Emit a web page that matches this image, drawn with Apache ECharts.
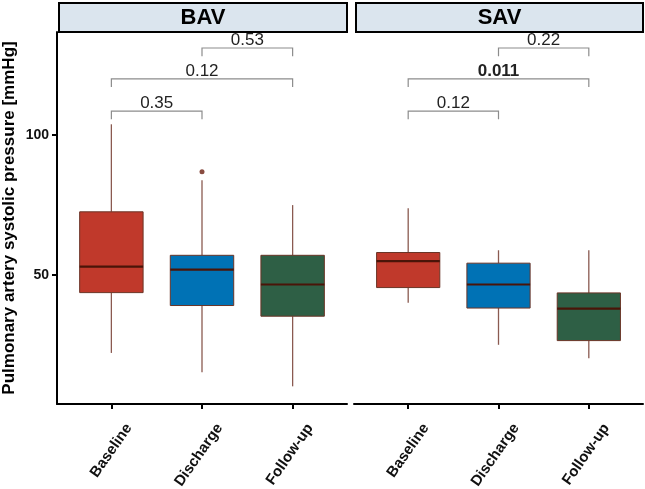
<!DOCTYPE html>
<html>
<head>
<meta charset="utf-8">
<script src="https://cdn.jsdelivr.net/npm/echarts@6/dist/echarts.min.js"></script>
<style>html,body{margin:0;padding:0;background:#fff}#c{width:645px;height:489px}</style>
</head>
<body>
<div id="c"></div>
<script>
// ---- data ----
var categories = ['Baseline', 'Discharge', 'Follow-up'];
var panels = ['BAV', 'SAV'];
var boxColors = ['#C0392B', '#0072B5', '#2E5F45'];
// [low whisker, Q1, median, Q3, high whisker]
var bavBoxes = [
  [22.3, 43.8, 53.1, 72.6, 103.8],
  [15.4, 39.2, 52.0, 57.1, 83.9],
  [10.4, 35.4, 46.7, 57.1, 75.0]
];
var savBoxes = [
  [40.2, 45.6, 55.0, 58.1, 73.9],
  [25.2, 38.3, 46.7, 54.3, 58.9],
  [20.4, 26.7, 38.1, 43.7, 58.9]
];
var bavOutliers = [[2, 86.9]];
var savOutliers = [];
var pairs = [[1, 2], [1, 3], [2, 3]];
var bracketY = [108.5, 120.0, 131.0];
var bavP = ['0.35', '0.12', '0.53'];
var savP = ['0.12', '0.011', '0.22'];
var savBold = [false, true, false];
var bavBold = [false, false, false];
var yTicks = [50, 100];
var yTitle = 'Pulmonary artery systolic pressure [mmHg]';

var yMin = 4.1, yMax = 136.7;
var FONT = 'Liberation Sans, Arial, sans-serif';

var chart = echarts.init(document.getElementById('c'), null, {renderer: 'canvas'});

function boxData(boxes) {
  return boxes.map(function (b, i) { return [i + 1].concat(b); });
}
function bracketData(p, bold) {
  return pairs.map(function (pr, i) { return [pr[0], pr[1], bracketY[i], i, bold[i] ? 1 : 0]; });
}

function renderBox(params, api) {
  var x = api.value(0);
  var lo = api.coord([x, api.value(1)]);
  var q1 = api.coord([x, api.value(2)]);
  var md = api.coord([x, api.value(3)]);
  var q3 = api.coord([x, api.value(4)]);
  var hi = api.coord([x, api.value(5)]);
  var w = api.size([0.7, 0])[0];
  var cx = lo[0];
  var color = boxColors[params.dataIndex];
  return {
    type: 'group',
    children: [
      {type: 'line', shape: {x1: cx, y1: q3[1], x2: cx, y2: hi[1]}, style: {stroke: '#8a5a50', lineWidth: 1.3}},
      {type: 'line', shape: {x1: cx, y1: q1[1], x2: cx, y2: lo[1]}, style: {stroke: '#8a5a50', lineWidth: 1.3}},
      {type: 'rect', shape: {x: cx - w / 2, y: q3[1], width: w, height: q1[1] - q3[1]},
        style: {fill: color, stroke: '#6a3426', lineWidth: 1}},
      {type: 'line', shape: {x1: cx - w / 2, y1: md[1], x2: cx + w / 2, y2: md[1]}, style: {stroke: '#4a1408', lineWidth: 2.2}}
    ]
  };
}

var bracketLabels = {bavBr: bavP, savBr: savP};
function renderBracket(params, api) {
  var a = api.coord([api.value(0), api.value(2)]);
  var b = api.coord([api.value(1), api.value(2)]);
  var tipY = api.coord([api.value(0), api.value(2) - 2.9])[1];
  var label = bracketLabels[params.seriesName][params.dataIndex];
  var bold = api.value(4) === 1;
  return {
    type: 'group',
    children: [
      {type: 'polyline', shape: {points: [[a[0], tipY], [a[0], a[1]], [b[0], b[1]], [b[0], tipY]]},
        style: {stroke: '#8c8c8c', lineWidth: 1.2, fill: null}},
      {type: 'text', x: (a[0] + b[0]) / 2, y: a[1] - 8,
        style: {text: label, fontSize: 17, fontWeight: bold ? 'bold' : 'normal', fill: '#222',
          fontFamily: FONT, align: 'center', verticalAlign: 'middle'}}
    ]
  };
}

var grids = [
  {left: 57, top: 32, width: 290, height: 372},
  {left: 354, top: 32, width: 289, height: 372}
];

function xAxis(i) {
  return {
    type: 'value', gridIndex: i, min: 0.4, max: 3.6,
    axisLine: {show: true, onZero: false, lineStyle: {color: '#000', width: 2}},
    axisTick: {show: true, customValues: [1, 2, 3], length: 5, lineStyle: {color: '#000', width: 2}},
    axisLabel: {show: true, customValues: [1, 2, 3], rotate: 55, margin: 9,
      verticalAlign: 'top', padding: [14, 0, 0, 0],
      formatter: function (v) { return categories[Math.round(v) - 1]; },
      color: '#111', fontWeight: 'bold', fontSize: 15, fontFamily: FONT},
    splitLine: {show: false}
  };
}

var option = {
  animation: false,
  backgroundColor: '#fff',
  grid: grids.map(function (g) { return Object.assign({outerBoundsMode: 'none', containLabel: false}, g); }),
  xAxis: [xAxis(0), xAxis(1)],
  yAxis: [
    {type: 'value', gridIndex: 0, min: yMin, max: yMax,
      name: yTitle, nameLocation: 'middle', nameRotate: 90, nameGap: 39,
      nameTextStyle: {color: '#000', fontWeight: 'bold', fontSize: 17, fontFamily: FONT},
      axisLine: {show: true, lineStyle: {color: '#000', width: 2}},
      axisTick: {show: true, customValues: yTicks, length: 5, lineStyle: {color: '#000', width: 2}},
      axisLabel: {show: true, customValues: yTicks, margin: 8, color: '#111', fontWeight: 'bold', fontSize: 14,
        fontFamily: FONT},
      splitLine: {show: false}},
    {type: 'value', gridIndex: 1, min: yMin, max: yMax, show: false,
      axisLine: {show: false}, axisTick: {show: false}, axisLabel: {show: false}, splitLine: {show: false}}
  ],
  graphic: panels.map(function (p, i) {
    var g = grids[i];
    return {
      type: 'group', left: g.left + 1, top: 2,
      children: [
        {type: 'rect', shape: {x: 0, y: 0, width: g.width - 2, height: 29},
          style: {fill: '#dbe5ee', stroke: '#000', lineWidth: 2}},
        {type: 'text', x: (g.width - 2) / 2, y: 15,
          style: {text: p, fontSize: 22, fontWeight: 'bold', fill: '#000', align: 'center', verticalAlign: 'middle',
            fontFamily: FONT}}
      ]
    };
  }),
  series: [
    {type: 'custom', name: 'bavBox', xAxisIndex: 0, yAxisIndex: 0, renderItem: renderBox, clip: false,
      data: boxData(bavBoxes), encode: {x: 0, y: [1, 2, 3, 4, 5]}},
    {type: 'custom', name: 'savBox', xAxisIndex: 1, yAxisIndex: 1, renderItem: renderBox, clip: false,
      data: boxData(savBoxes), encode: {x: 0, y: [1, 2, 3, 4, 5]}},
    {type: 'scatter', name: 'bavOut', xAxisIndex: 0, yAxisIndex: 0, data: bavOutliers,
      symbolSize: 5, itemStyle: {color: '#6b1f10'}},
    {type: 'scatter', name: 'savOut', xAxisIndex: 1, yAxisIndex: 1, data: savOutliers,
      symbolSize: 5, itemStyle: {color: '#6b1f10'}},
    {type: 'custom', name: 'bavBr', xAxisIndex: 0, yAxisIndex: 0, renderItem: renderBracket, clip: false,
      data: bracketData(bavP, bavBold), encode: {x: [0, 1], y: 2}},
    {type: 'custom', name: 'savBr', xAxisIndex: 1, yAxisIndex: 1, renderItem: renderBracket, clip: false,
      data: bracketData(savP, savBold), encode: {x: [0, 1], y: 2}}
  ]
};
chart.setOption(option);
</script>
</body>
</html>
